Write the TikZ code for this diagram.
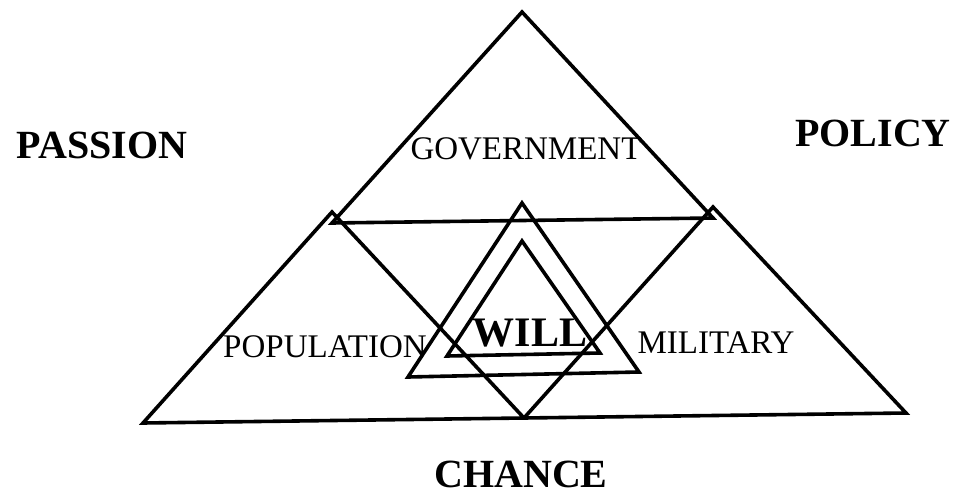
\documentclass[tikz,border=0pt]{standalone}
\usepackage{fontspec}
\setmainfont{Liberation Serif}
\begin{document}
\begin{tikzpicture}[x=1pt,y=-1pt,line width=3.6pt,line join=miter,
  corner/.style={font=\fontsize{40}{48}\selectfont\bfseries,inner sep=0pt,anchor=base},
  part/.style={font=\fontsize{33}{40}\selectfont,inner sep=0pt,anchor=base},
  core/.style={font=\fontsize{42}{50}\selectfont\bfseries,inner sep=0pt,anchor=base}]
\useasboundingbox (0,0) rectangle (957,497);
% corners of the three outer triangles
\coordinate (top) at (522,12);
\coordinate (gl) at (332,223);
\coordinate (gr) at (713,218);
\coordinate (pt) at (332,212);
\coordinate (mt) at (713,207);
\coordinate (bl) at (143,423);
\coordinate (bm) at (524,418);
\coordinate (br) at (906,413);
% the two triangles in the middle
\coordinate (wt) at (522,203);
\coordinate (wl) at (408,377);
\coordinate (wr) at (639,372);
\coordinate (it) at (522,241);
\coordinate (il) at (447,356);
\coordinate (ir) at (600,353);
\draw (top) -- (gl) -- (gr) -- cycle;
\draw (pt) -- (bl) -- (bm) -- cycle;
\draw (mt) -- (bm) -- (br) -- cycle;
\draw (wt) -- (wl) -- (wr) -- cycle;
\draw (it) -- (il) -- (ir) -- cycle;
% labels
\node[corner] (passion) at (102,158) {PASSION};
\node[corner] (policy) at (873,147) {POLICY};
\node[corner] (chance) at (521,487) {CHANCE};
\node[part] (gov) at (526,160) {GOVERNMENT};
\node[part] (pop) at (325,357) {POPULATION};
\node[part] (mil) at (716,353) {MILITARY};
\node[core] (will) at (530,346) {WILL};
\end{tikzpicture}
\end{document}
